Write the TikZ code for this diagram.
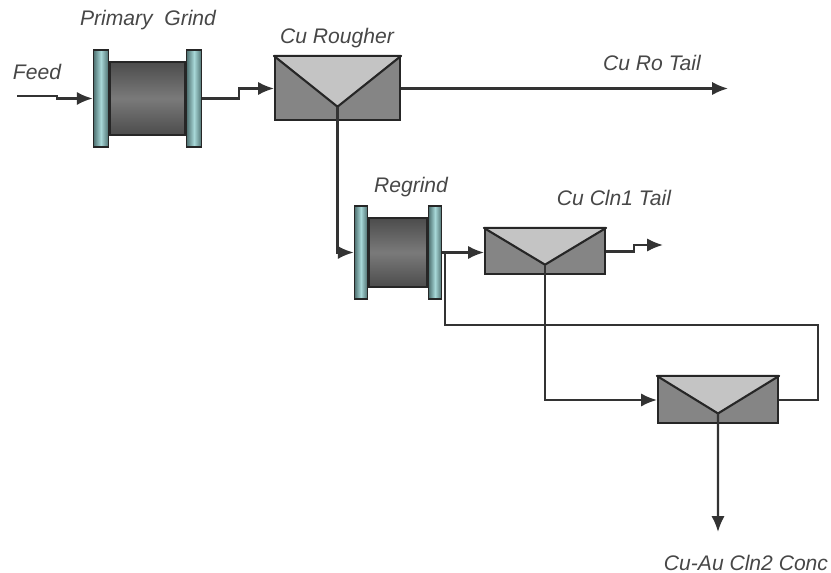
\documentclass[tikz,border=0pt]{standalone}
\usepackage{fontspec}
\setmainfont{Liberation Sans}
\usetikzlibrary{positioning,calc,arrows.meta}

\definecolor{cellgray}{HTML}{858585}
\definecolor{veegray}{HTML}{C4C4C4}
\definecolor{flangedark}{HTML}{4E7070}
\definecolor{flangelight}{HTML}{A8D8D8}
\definecolor{drumdark}{HTML}{4C4C4C}
\definecolor{drummid}{HTML}{7A7A7A}

\newlength\px
\setlength\px{0.02cm}

\tikzset{
  lbl/.style={font=\fontsize{12}{14}\selectfont\itshape, text=black!72},
  flow/.style={draw=black!80, line width=1.2pt},
  cell/.style={draw=black!85, line width=1.2pt, fill=cellgray, inner sep=0pt},
  vee/.style={draw=black!85, line width=1.2pt, fill=veegray, line join=round},
  drum/.style={draw=black!85, line width=0.9pt, inner sep=0pt,
    top color=drumdark, bottom color=drumdark, middle color=drummid},
  flange/.style={draw=black!85, line width=0.9pt, inner sep=0pt,
    left color=flangedark, right color=flangedark, middle color=flangelight},
}

\begin{document}
\begin{tikzpicture}[x=0.02cm, y=-0.02cm, >={Latex[length=9pt,width=7.5pt]}]
    \useasboundingbox (0,0) rectangle (831,573);

    % Moinhos
    \node[drum, minimum width=75\px, minimum height=73\px] (pgm) at (147.5,98.5) {};
    \node[flange, minimum width=15\px, minimum height=97\px, left=0pt of pgm] (pgmL) {};
    \node[flange, minimum width=15\px, minimum height=97\px, right=0pt of pgm] (pgmR) {};

    \node[drum, minimum width=58\px, minimum height=69\px] (rg) at (398,252.5) {};
    \node[flange, minimum width=13\px, minimum height=93\px, left=0pt of rg] (rgL) {};
    \node[flange, minimum width=13\px, minimum height=93\px, right=0pt of rg] (rgR) {};

    % Celulas de flotacao
    \node[cell, minimum width=125\px, minimum height=63\px] (rough) at (337.5,88.5) {};
    \node[cell, minimum width=120\px, minimum height=45\px] (cln1) at (545,251.5) {};
    \node[cell, minimum width=120\px, minimum height=46\px] (cln2) at (718,400) {};

    \foreach \c in {rough,cln1,cln2} {
        \coordinate (\c a) at ($(\c.north)!0.78!(\c.south)$);
        \filldraw[vee] (\c.north west) -- (\c a) -- (\c.north east) -- cycle;
    }

    % Rotulos
    \node[lbl] (feedlbl) at (37,72) {Feed};
    \node[lbl] (pgmlbl) at (148,20) {Primary\ \ Grind};
    \node[lbl] (roughlbl) at (337,38) {Cu Rougher};
    \node[lbl] (rotaillbl) at (652,63) {Cu Ro Tail};
    \node[lbl] (rglbl) at (411,187) {Regrind};
    \node[lbl] (c1taillbl) at (614,198) {Cu Cln1 Tail};
    \node[lbl] (c2conclbl) at (746,563) {Cu-Au Cln2 Conc};

    % Pontos livres
    \coordinate (feedin) at (17,96);
    \coordinate (rotail) at (728,88.5);
    \coordinate (c1tail) at (663,245);
    \coordinate (c2conc) at (718,532);
    \coordinate (rcy) at (445,325);

    % Fluxos
    \draw[flow,->] (feedin) -- ++(40,0) |- (pgmL.west);
    \draw[flow,->] (pgmR.east) -- ++(37,0) |- (rough.west);
    \draw[flow,->] (rough.east) -- (rotail);
    \draw[flow,->] (rougha) |- (rgL.west);
    \draw[flow,->] (rgR.east) -- (rgR.east -| cln1.west);
    \draw[flow,->] (cln1.east) -- ++(28,0) |- (c1tail);
    \draw[flow,->] (cln1a) |- (cln2.west);
    \draw[flow,->] (cln2a) -- (c2conc);
    \draw[flow] (cln2.east) -- ++(39,0) |- (rcy) -- (rcy |- rgR.east);
\end{tikzpicture}
\end{document}
